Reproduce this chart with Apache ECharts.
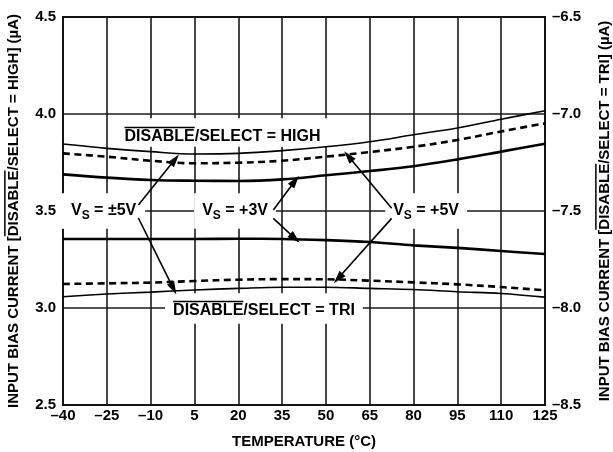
<!DOCTYPE html>
<html><head><meta charset="utf-8">
<script src="https://cdn.jsdelivr.net/npm/echarts@6/dist/echarts.min.js"></script>
<style>html,body{margin:0;padding:0;background:#fff}#c{width:613px;height:452px}</style>
</head><body><div id="c"></div>
<script>
// ---- data ----
const temps = [-40, -25, -10, 5, 20, 35, 50, 65, 80, 95, 110, 125];
const xTickLabels = ['\u201340','\u201325','\u201310','5','20','35','50','65','80','95','110','125'];
// DISABLE/SELECT = HIGH curves, left axis (µA)
const highThin   = [3.845, 3.823, 3.806, 3.794, 3.797, 3.811, 3.831, 3.857, 3.893, 3.928, 3.973, 4.017];
const highDashed = [3.797, 3.780, 3.759, 3.746, 3.749, 3.759, 3.780, 3.804, 3.831, 3.866, 3.910, 3.952];
const highThick  = [3.689, 3.672, 3.660, 3.656, 3.655, 3.663, 3.684, 3.706, 3.731, 3.766, 3.806, 3.847];
// DISABLE/SELECT = TRI curves, right axis (µA)
const triThick  = [-7.644, -7.644, -7.644, -7.644, -7.643, -7.644, -7.650, -7.660, -7.677, -7.690, -7.706, -7.722];
const triDashed = [-7.876, -7.873, -7.869, -7.861, -7.854, -7.851, -7.852, -7.859, -7.868, -7.878, -7.892, -7.909];
const triThin   = [-7.942, -7.928, -7.918, -7.907, -7.899, -7.893, -7.893, -7.899, -7.905, -7.916, -7.925, -7.944];
// annotation arrows [fromT, fromV, toT, toV] (left-axis units)
const arrows = [
  [-14.2, 3.531, -1.7, 3.765],
  [-14.2, 3.464, -2.2, 3.100],
  [32.0, 3.505, 39.4, 3.655],
  [32.0, 3.462, 39.4, 3.359],
  [72.5, 3.514, 57.7, 3.782],
  [72.5, 3.462, 54.2, 3.153]
];

const X0 = -40;
const FF = '"Liberation Sans", Arial, Helvetica, sans-serif';
const pts = arr => temps.map((t, i) => [t - X0, arr[i]]);

const chart = echarts.init(document.getElementById('c'), null, {renderer: 'canvas'});

function lineSeries(name, data, yIdx, width, dashed, extra) {
  return Object.assign({
    name, type: 'line', data: pts(data), yAxisIndex: yIdx, smooth: 0.35,
    symbol: 'none', silent: true,
    lineStyle: {color: '#000', width: width, type: dashed ? [7, 4.5] : 'solid'}
  }, extra || {});
}

const axisLabelStyle = {fontFamily: FF, fontWeight: 'bold', fontSize: 15, color: '#000'};
const splitStyle = {show: true, lineStyle: {color: '#1a1a1a', width: 1.6}};

const option = {
  animation: false,
  backgroundColor: '#fff',
  grid: {left: 63, right: 68, top: 17, bottom: 47, show: true, borderColor: '#000', borderWidth: 2, backgroundColor: 'transparent'},
  xAxis: {
    type: 'value', min: 0, max: 165, interval: 15,
    axisLine: {show: false}, axisTick: {show: false},
    splitLine: splitStyle,
    axisLabel: Object.assign({margin: 3, formatter: v => xTickLabels[Math.round(v / 15)]}, axisLabelStyle)
  },
  yAxis: [
    {type: 'value', min: 2.5, max: 4.5, interval: 0.5, position: 'left',
     axisLine: {show: false}, axisTick: {show: false}, splitLine: splitStyle,
     axisLabel: Object.assign({margin: 7, formatter: v => v.toFixed(1)}, axisLabelStyle)},
    {type: 'value', min: -8.5, max: -6.5, interval: 0.5, position: 'right',
     axisLine: {show: false}, axisTick: {show: false}, splitLine: {show: false},
     axisLabel: Object.assign({margin: 7, formatter: v => '\u2013' + Math.abs(v).toFixed(1)}, axisLabelStyle)}
  ],
  series: [
    lineSeries('highThin', highThin, 0, 1.6, false, {
      markLine: {
        silent: true, animation: false, symbol: ['none', 'triangle'], symbolSize: [8, 13],
        lineStyle: {color: '#000', width: 1.6, type: 'solid'}, label: {show: false},
        data: arrows.map(a => [{coord: [a[0] - X0, a[1]]}, {coord: [a[2] - X0, a[3]]}])
      }
    }),
    lineSeries('highDashed', highDashed, 0, 2.6, true),
    lineSeries('highThick', highThick, 0, 2.6, false),
    lineSeries('triThick', triThick, 1, 2.6, false),
    lineSeries('triDashed', triDashed, 1, 2.6, true),
    lineSeries('triThin', triThin, 1, 1.6, false)
  ]
};
chart.setOption(option);

// ---- text annotations ----
const cv = document.createElement('canvas').getContext('2d');
function tw(t, size) { cv.font = 'bold ' + size + 'px ' + FF; return cv.measureText(t).width; }
function label(segs, opt) {
  const size = opt.size, cap = size * 0.716;
  let x = 0; const kids = [];
  segs.forEach(s => {
    const sz = s.sub ? 12 : size;
    const w = tw(s.t, sz);
    kids.push({type: 'text', x: x, y: s.sub ? 5 : 0, z: 1,
      style: {text: s.t, font: 'bold ' + sz + 'px ' + FF, fill: '#000',
              align: 'left', verticalAlign: 'middle', textAlign: 'left', textVerticalAlign: 'middle'}});
    if (s.over) kids.push({type: 'rect', x: x, y: -cap / 2 - 4.5, z: 1,
      shape: {x: 0, y: 0, width: w, height: 1.5}, style: {fill: '#000'}});
    x += w;
  });
  const W = x;
  kids.forEach(k => { k.x -= W / 2; });
  if (opt.bg) kids.unshift({type: 'rect', z: 1,
    shape: {x: -W / 2 - opt.padX, y: -cap / 2 - opt.padT, width: W + 2 * opt.padX, height: cap + opt.padT + opt.padB},
    style: {fill: '#fff'}});
  return {type: 'group', x: opt.x, y: opt.y, rotation: opt.rot || 0, z: 1, children: kids};
}
const px = (t, v) => chart.convertToPixel({gridIndex: 0}, [t - X0, v]);
const tl = px(-40, 4.5), br = px(125, 2.5);
const cx = (tl[0] + br[0]) / 2, cy = (tl[1] + br[1]) / 2;

const pHigh = px(14.6, 3.881), pTri = px(28.8, 2.985);
const p5a = px(-26.1, 3.5), p3 = px(18.9, 3.5), p5 = px(84.3, 3.5);
const graphics = [
  label([{t: 'DISABLE', over: true}, {t: '/SELECT = HIGH'}], {size: 16, x: pHigh[0], y: pHigh[1], bg: true, padX: 7, padT: 13, padB: 4}),
  label([{t: 'DISABLE', over: true}, {t: '/SELECT = TRI'}], {size: 16, x: pTri[0], y: pTri[1], bg: true, padX: 8, padT: 12, padB: 7}),
  label([{t: 'V'}, {t: 'S', sub: true}, {t: ' = \u00b15V'}], {size: 16, x: p5a[0], y: p5a[1], bg: true, padX: 9, padT: 12, padB: 12}),
  label([{t: 'V'}, {t: 'S', sub: true}, {t: ' = +3V'}], {size: 16, x: p3[0], y: p3[1], bg: true, padX: 8, padT: 12, padB: 12}),
  label([{t: 'V'}, {t: 'S', sub: true}, {t: ' = +5V'}], {size: 16, x: p5[0], y: p5[1], bg: true, padX: 8, padT: 12, padB: 12}),
  label([{t: 'INPUT BIAS CURRENT ['}, {t: 'DISABLE', over: true}, {t: '/SELECT = HIGH] (\u00b5A)'}], {size: 15, x: tl[0] - 49, y: cy, rot: Math.PI / 2}),
  label([{t: 'INPUT BIAS CURRENT ['}, {t: 'DISABLE', over: true}, {t: '/SELECT = TRI] (\u00b5A)'}], {size: 15, x: br[0] + 60, y: cy, rot: Math.PI / 2}),
  label([{t: 'TEMPERATURE (\u00b0C)'}], {size: 15, x: cx, y: br[1] + 37})
];
chart.setOption({graphic: graphics});
</script>
</body></html>
